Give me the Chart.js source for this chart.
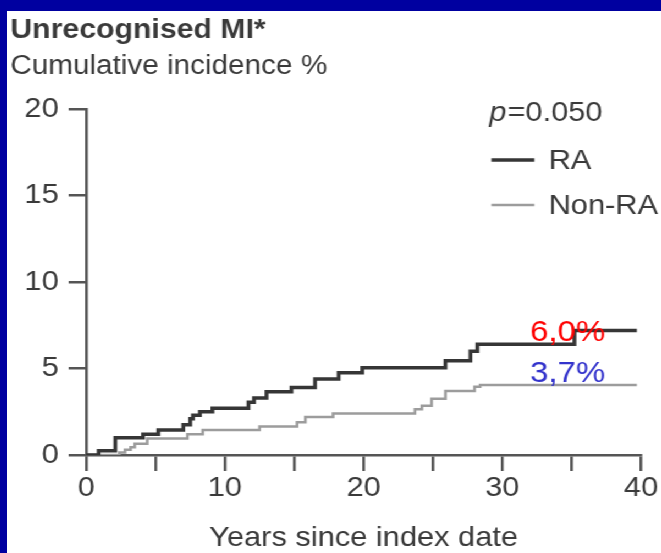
<!DOCTYPE html>
<html>
<head>
<meta charset="utf-8">
<script src="https://cdn.jsdelivr.net/npm/chart.js@4.4.1/dist/chart.umd.min.js"></script>
<style>
  html, body { margin: 0; padding: 0; background: #0000a0; }
  body { width: 661px; height: 553px; overflow: hidden; position: relative; }
  /* panel is drawn narrow and widened, the slide art uses a stretched face */
  #panel {
    position: absolute; left: 7px; top: 11px;
    width: 595px; height: 542px;
    background: #fff;
    transform: scaleX(1.1); transform-origin: 0 0;
  }
</style>
</head>
<body>
<div id="panel"><canvas id="chart"></canvas></div>
<script>
/* Cumulative incidence of unrecognised MI, RA vs Non-RA */

const RA_YEARS = [0, 0.9, 2.1, 4.1, 5.2, 7.0, 7.5, 7.7, 8.2, 9.1, 11.7, 12.1, 13.0, 14.8, 16.5, 18.2, 19.9, 25.9, 27.7, 28.2, 35.2, 39.7];
const RA_PCT = [0, 0.25, 1.0, 1.2, 1.45, 1.75, 2.1, 2.3, 2.5, 2.7, 3.05, 3.3, 3.65, 3.9, 4.4, 4.75, 5.05, 5.45, 6.0, 6.4, 7.2, 7.2];

const NONRA_YEARS = [0, 2.4, 2.8, 3.2, 3.5, 4.4, 7.3, 8.4, 12.5, 15.2, 15.8, 17.8, 23.7, 24.2, 24.9, 25.9, 28.0, 28.4, 39.7];
const NONRA_PCT = [0, 0.15, 0.3, 0.45, 0.65, 0.95, 1.2, 1.45, 1.65, 1.9, 2.2, 2.4, 2.65, 2.85, 3.25, 3.7, 3.95, 4.05, 4.05];

const X_TICKS_LABELLED = [0, 10, 20, 30, 40];
const Y_TICKS = [0, 5, 10, 15, 20];

const P_VALUE = '=0.050';
const SERIES_NAMES = ['RA', 'Non-RA'];
const CALLOUTS = ['6,0%', '3,7%'];

const COLORS = {
    ra: '#363636',
    nonRa: '#9c9c9c',
    axis: '#555555',
    text: '#3a3a3a',
    red: '#ff0000',
    blue: '#3333cc',
};
const FONT = "'Liberation Sans', Arial, Helvetica, sans-serif";

function toPoints(xs, ys) {
    return xs.map((x, i) => ({ x: x, y: ys[i] }));
}

// p-value, legend and the two percentage callouts
const overlay = {
    id: 'overlay',
    afterDatasetsDraw(chart) {
        const ctx = chart.ctx;
        const area = chart.chartArea;
        const xs = chart.scales.x;
        const ys = chart.scales.y;
        ctx.save();
        ctx.fillStyle = COLORS.text;
        ctx.textBaseline = 'alphabetic';
        ctx.textAlign = 'left';

        const left = area.right - 138;
        ctx.font = 'italic 28px ' + FONT;
        ctx.fillText('p', left, area.top + 12);
        const pw = ctx.measureText('p').width;
        ctx.font = '28px ' + FONT;
        ctx.fillText(P_VALUE, left + pw + 1, area.top + 12);

        const rows = [
            { name: SERIES_NAMES[0], color: COLORS.ra, width: 3.5, y: area.top + 51 },
            { name: SERIES_NAMES[1], color: COLORS.nonRa, width: 2.5, y: area.top + 96 },
        ];
        ctx.textBaseline = 'middle';
        rows.forEach(r => {
            ctx.strokeStyle = r.color;
            ctx.lineWidth = r.width;
            ctx.beginPath();
            ctx.moveTo(area.right - 136, r.y);
            ctx.lineTo(area.right - 97, r.y);
            ctx.stroke();
            ctx.fillText(r.name, area.right - 84, r.y + 1);
        });

        // callouts sit just by the curve tails
        ctx.font = '30px ' + FONT;
        ctx.textBaseline = 'alphabetic';
        ctx.fillStyle = COLORS.red;
        ctx.fillText(CALLOUTS[0], xs.getPixelForValue(32), ys.getPixelForValue(6.6));
        ctx.fillStyle = COLORS.blue;
        ctx.fillText(CALLOUTS[1], xs.getPixelForValue(32), ys.getPixelForValue(4.2));
        ctx.restore();
    },
};

new Chart(document.getElementById('chart'), {
    type: 'line',
    data: {
        datasets: [
            {
                label: SERIES_NAMES[0],
                data: toPoints(RA_YEARS, RA_PCT),
                borderColor: COLORS.ra,
                borderWidth: 3.5,
                stepped: 'before',
                pointRadius: 0,
                fill: false,
            },
            {
                label: SERIES_NAMES[1],
                data: toPoints(NONRA_YEARS, NONRA_PCT),
                borderColor: COLORS.nonRa,
                borderWidth: 2.5,
                stepped: 'before',
                pointRadius: 0,
                fill: false,
            },
        ],
    },
    options: {
        responsive: true,
        maintainAspectRatio: false,
        animation: false,
        layout: { padding: { left: 3, right: 18.6, top: 0, bottom: 0 } },
        scales: {
            x: {
                type: 'linear',
                min: 0,
                max: 40,
                afterFit: s => { s.height = 98; },
                ticks: {
                    stepSize: 5,
                    padding: 0,
                    maxRotation: 0,
                    autoSkip: false,
                    callback: v => X_TICKS_LABELLED.includes(v) ? String(v) : '',
                    font: { family: FONT, size: 28 },
                    color: COLORS.text,
                },
                grid: {
                    drawOnChartArea: false,
                    tickLength: 16,
                    color: COLORS.axis,
                    lineWidth: 2.5,
                },
                border: { display: true, color: COLORS.axis, width: 2.5 },
                title: {
                    display: true,
                    text: 'Years since index date',
                    font: { family: FONT, size: 28, lineHeight: 1.05 },
                    color: COLORS.text,
                    padding: { top: 0, bottom: 0 },
                },
            },
            y: {
                min: 0,
                max: 20,
                afterFit: s => { s.width = 69; },
                afterBuildTicks: s => { s.ticks = Y_TICKS.map(v => ({ value: v })); },
                ticks: {
                    padding: 9,
                    font: { family: FONT, size: 28 },
                    color: COLORS.text,
                },
                grid: {
                    drawOnChartArea: false,
                    tickLength: 16,
                    color: COLORS.axis,
                    lineWidth: 2.5,
                },
                border: { display: true, color: COLORS.axis, width: 2.5 },
            },
        },
        plugins: {
            legend: { display: false },
            tooltip: { enabled: false },
            title: {
                display: true,
                text: 'Unrecognised MI*',
                align: 'start',
                color: COLORS.text,
                font: { family: FONT, size: 27.5, weight: 'bold', lineHeight: 1 },
                padding: { top: 6, bottom: 0 },
            },
            subtitle: {
                display: true,
                text: 'Cumulative incidence %',
                align: 'start',
                color: COLORS.text,
                font: { family: FONT, size: 27, lineHeight: 1 },
                padding: { top: 9, bottom: 28.5 },
            },
        },
    },
    plugins: [overlay],
});
</script>
</body>
</html>
